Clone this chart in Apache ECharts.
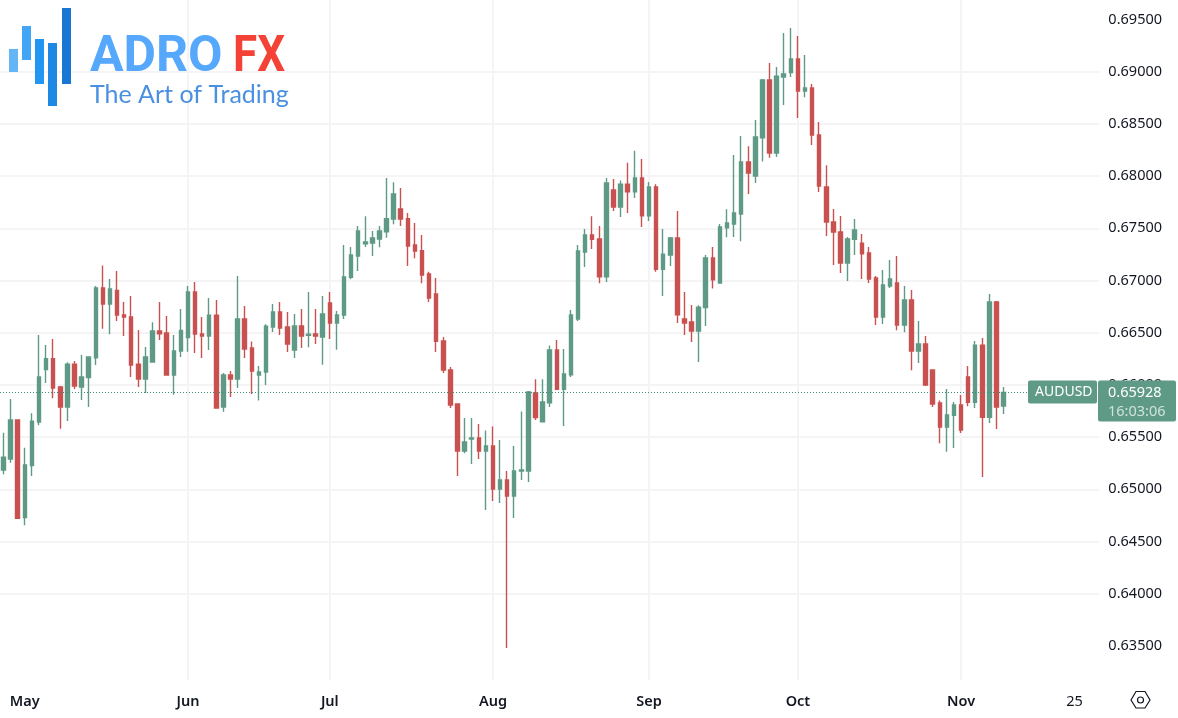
<!DOCTYPE html>
<html>
<head>
<meta charset="utf-8">
<title>AUDUSD</title>
<script src="https://cdn.jsdelivr.net/npm/echarts@6/dist/echarts.min.js"></script>
<style>
  html, body { margin: 0; padding: 0; background: #fff; }
  #chart { width: 1178px; height: 718px; }
</style>
</head>
<body>
<div id="chart"></div>
<script>
const openValues = [
  0.65185,0.65291,0.65664,0.64729,0.65227,0.65645,0.66147,0.66252,0.65980,0.65789,
  0.66198,0.65980,0.66070,0.66261,0.66929,0.66776,0.66906,0.66670,0.66651,0.66198,
  0.66057,0.66220,0.66517,0.66498,0.66095,0.66325,0.66453,0.66890,0.66488,0.66469,
  0.66667,0.65789,0.66095,0.66057,0.66632,0.66354,0.66095,0.66124,0.66555,0.66699,
  0.66555,0.66335,0.66565,0.66475,0.66488,0.66459,0.66785,0.66593,0.66670,0.67031,
  0.67235,0.67353,0.67360,0.67398,0.67468,0.67590,0.67685,0.67593,0.67341,0.67286,
  0.67063,0.66871,0.66421,0.66143,0.65818,0.65367,0.65482,0.65492,0.65368,0.65416,
  0.65004,0.65090,0.64937,0.65176,0.65176,0.65924,0.65646,0.65828,0.66335,0.65959,
  0.66096,0.66632,0.67274,0.67437,0.67399,0.67035,0.67868,0.67705,0.67922,0.67849,
  0.67983,0.67619,0.67897,0.67108,0.67245,0.67408,0.66632,0.66604,0.66517,0.66741,
  0.67217,0.66977,0.67504,0.67542,0.67638,0.68136,0.68002,0.68366,0.68921,0.68222,
  0.68950,0.68992,0.69122,0.68816,0.68845,0.68394,0.67896,0.67561,0.67465,0.67168,
  0.67395,0.67357,0.67264,0.67025,0.66651,0.66948,0.66977,0.66574,0.66814,0.66325,
  0.66392,0.66143,0.65827,0.65597,0.65709,0.65808,0.66076,0.65834,0.66380,0.65690,
  0.66795,0.65799
];
const closeValues = [
  0.65307,0.65664,0.64722,0.65233,0.65652,0.66076,0.66252,0.65971,0.65789,0.66198,
  0.65990,0.66076,0.66268,0.66929,0.66776,0.66919,0.66670,0.66651,0.66191,0.66057,
  0.66268,0.66517,0.66491,0.66095,0.66325,0.66523,0.66890,0.66488,0.66469,0.66667,
  0.65779,0.66095,0.66057,0.66632,0.66344,0.66134,0.66124,0.66562,0.66699,0.66546,
  0.66392,0.66565,0.66469,0.66485,0.66469,0.66680,0.66593,0.66670,0.67034,0.67245,
  0.67475,0.67369,0.67408,0.67475,0.67593,0.67829,0.67590,0.67331,0.67283,0.67053,
  0.66833,0.66418,0.66143,0.65808,0.65367,0.65453,0.65492,0.65367,0.65416,0.65004,
  0.65090,0.64937,0.65176,0.65186,0.65933,0.65687,0.65837,0.66335,0.65959,0.66106,
  0.66671,0.67284,0.67437,0.67395,0.67035,0.67935,0.67705,0.67922,0.67849,0.67983,
  0.67619,0.67897,0.67108,0.67252,0.67408,0.66671,0.66594,0.66517,0.66744,0.67217,
  0.67006,0.67514,0.67552,0.67648,0.68136,0.68030,0.68375,0.68921,0.68222,0.68956,
  0.68979,0.69122,0.68816,0.68845,0.68394,0.67906,0.67561,0.67465,0.67168,0.67398,
  0.67484,0.67255,0.67015,0.66651,0.66958,0.67015,0.66574,0.66814,0.66325,0.66392,
  0.66000,0.65818,0.65597,0.65712,0.65808,0.65569,0.65834,0.66380,0.65690,0.66795,
  0.65789,0.65928
];
const lowValues = [
  0.65144,0.65256,0.64716,0.64655,0.65128,0.65613,0.66019,0.65872,0.65581,0.65655,
  0.65961,0.65856,0.65789,0.66191,0.66539,0.66485,0.66613,0.66469,0.66076,0.65980,
  0.65923,0.66220,0.66431,0.66089,0.65907,0.66268,0.66319,0.66306,0.66258,0.66335,
  0.65779,0.65744,0.65885,0.65971,0.66258,0.65913,0.65850,0.66000,0.66507,0.66478,
  0.66316,0.66258,0.66354,0.66360,0.66392,0.66194,0.66440,0.66338,0.66632,0.67012,
  0.67092,0.67321,0.67235,0.67318,0.67411,0.67539,0.67523,0.67139,0.67213,0.66973,
  0.66795,0.66316,0.66114,0.65779,0.65128,0.65345,0.65243,0.65291,0.64803,0.64889,
  0.64870,0.63480,0.64726,0.65090,0.65071,0.65665,0.65646,0.65789,0.65952,0.65607,
  0.66077,0.66613,0.67130,0.67303,0.66974,0.66987,0.67667,0.67609,0.67648,0.67791,
  0.67514,0.67571,0.67083,0.66853,0.67140,0.66594,0.66479,0.66412,0.66220,0.66565,
  0.66923,0.66977,0.67415,0.67418,0.67376,0.67829,0.67935,0.68139,0.68177,0.68184,
  0.68682,0.68950,0.68557,0.68755,0.68299,0.67848,0.67427,0.67149,0.67073,0.66996,
  0.67245,0.67015,0.66977,0.66574,0.66584,0.66929,0.66523,0.66504,0.66140,0.66210,
  0.65990,0.65789,0.65441,0.65361,0.65396,0.65540,0.65795,0.65779,0.65118,0.65636,
  0.65578,0.65722
];
const highValues = [
  0.65543,0.65866,0.65671,0.65399,0.65728,0.66479,0.66383,0.66440,0.65990,0.66217,
  0.66230,0.66287,0.66274,0.66948,0.67143,0.67015,0.67092,0.66795,0.66852,0.66526,
  0.66364,0.66600,0.66795,0.66661,0.66479,0.66728,0.66948,0.66986,0.66651,0.66833,
  0.66814,0.66115,0.66134,0.67044,0.66756,0.66415,0.66182,0.66581,0.66775,0.66795,
  0.66699,0.66680,0.66728,0.66890,0.66728,0.66852,0.66890,0.66708,0.67341,0.67321,
  0.67523,0.67615,0.67475,0.67523,0.67982,0.67941,0.67887,0.67647,0.67551,0.67436,
  0.67085,0.67024,0.66459,0.66172,0.65824,0.65683,0.65683,0.65626,0.65563,0.65601,
  0.65473,0.65176,0.65416,0.65745,0.65943,0.66054,0.66054,0.66377,0.66431,0.66345,
  0.66719,0.67341,0.67494,0.67616,0.67523,0.67983,0.67973,0.67957,0.68127,0.68242,
  0.68165,0.67945,0.67922,0.67494,0.67418,0.67667,0.66891,0.66766,0.66763,0.67245,
  0.67322,0.67542,0.67683,0.68203,0.68385,0.68286,0.68538,0.68931,0.69084,0.69046,
  0.69371,0.69419,0.69343,0.69161,0.68883,0.68519,0.68104,0.67686,0.67619,0.67417,
  0.67590,0.67446,0.67322,0.67044,0.67101,0.67197,0.67235,0.66948,0.66910,0.66613,
  0.66469,0.66143,0.65850,0.65961,0.65837,0.65904,0.66182,0.66421,0.66450,0.66871,
  0.66804,0.65981
];

const tickLabels = ["May", "Jun", "Jul", "Aug", "Sep", "Oct", "Nov", "25"];
const tickSlots = [3, 26, 46, 69, 91, 112, 135, 151];
const boldTicks = ["May", "Jun", "Jul", "Aug", "Sep", "Oct", "Nov"];
const priceTicks = [0.635, 0.64, 0.645, 0.65, 0.655, 0.66, 0.665, 0.67, 0.675, 0.68, 0.685, 0.69, 0.695];
const slotCount = 155;
const symbolName = "AUDUSD";
const lastPrice = 0.65928;
const countdown = "16:03:06";

const UP = "#5f9a86";
const DOWN = "#c95150";
const GRID = "#f4f4f6";
const FONT = '"Noto Sans", sans-serif';

const categories = Array.from({ length: slotCount }, (_, i) => {
  const at = tickSlots.indexOf(i);
  return at >= 0 ? tickLabels[at] : "";
});
const hasLabel = (index, value) => value !== "";
const candles = openValues.map((open, i) => [open, closeValues[i], lowValues[i], highValues[i]]);

const chart = echarts.init(document.getElementById("chart"));

chart.setOption({
  animation: false,
  backgroundColor: "#fff",
  grid: { left: -0.54, top: 0, width: 1099.9, height: 680 },
  xAxis: {
    type: "category",
    data: categories,
    boundaryGap: true,
    axisLine: { show: false },
    axisTick: { show: false, alignWithLabel: true },
    splitLine: {
      show: true,
      alignWithLabel: true,
      showMinLine: false,
      showMaxLine: false,
      interval: hasLabel,
      lineStyle: { color: GRID, width: 2 },
    },
    axisLabel: {
      interval: hasLabel,
      hideOverlap: false,
      margin: 14,
      color: "#131722",
      fontFamily: FONT,
      fontSize: 14.5,
      formatter: (value) => (boldTicks.includes(value) ? `{b|${value}}` : value),
      rich: { b: { fontFamily: FONT, fontSize: 14.5, fontWeight: 600, color: "#131722" } },
    },
  },
  yAxis: {
    type: "value",
    position: "right",
    min: 0.63174,
    max: 0.69687,
    axisLine: { show: false },
    axisTick: { show: false, customValues: priceTicks },
    splitLine: { show: true, showMinLine: false, showMaxLine: false, lineStyle: { color: GRID, width: 2 } },
    axisLabel: {
      customValues: priceTicks,
      margin: 9,
      padding: [4, 0, 0, 0],
      color: "#131722",
      fontFamily: FONT,
      fontSize: 14.5,
      formatter: (value) => value.toFixed(5),
    },
  },
  series: [
    {
      type: "candlestick",
      data: candles,
      barWidth: 4,
      itemStyle: { color: UP, color0: DOWN, borderColor: UP, borderColor0: DOWN, borderWidth: 1.4 },
      markLine: {
        silent: true,
        symbol: "none",
        precision: 5,
        label: { show: false },
        emphasis: { disabled: true },
        lineStyle: { color: "#3f8a72", type: [1, 2], width: 1 },
        data: [{ yAxis: lastPrice }],
      },
    },
  ],
});

// tags and logo sit on top of the chart
const priceY = chart.convertToPixel({ yAxisIndex: 0 }, lastPrice);
const logoBars = [
  { x: 9, y: 49, h: 23, fill: "#64b5f6" },
  { x: 22, y: 26, h: 34, fill: "#42a5f5" },
  { x: 35, y: 39, h: 45, fill: "#2196f3" },
  { x: 48, y: 43, h: 63, fill: "#1e88e5" },
  { x: 62, y: 8, h: 76, fill: "#1976d2" },
];

const overlay = [
  ...logoBars.map((bar) => ({
    type: "rect",
    shape: { x: bar.x, y: bar.y, width: 9, height: bar.h },
    style: { fill: bar.fill },
  })),
  { type: "text", x: 90, y: 33, style: { text: "ADRO", fill: "#55a8fb", font: "700 50px Roboto, sans-serif" } },
  { type: "text", x: 233, y: 33, scaleX: 0.88, style: { text: "FX", fill: "#f44336", font: "700 50px Roboto, sans-serif" } },
  { type: "text", x: 90, y: 82, style: { text: "The Art of Trading", fill: "#4a90e2", font: "400 25px Lato, sans-serif" } },
  {
    type: "rect",
    shape: { x: 1028, y: priceY - 12, width: 69, height: 23, r: 2 },
    style: { fill: UP },
  },
  {
    type: "text",
    x: 1035,
    y: priceY,
    style: { text: symbolName, fill: "#fff", font: `14px ${FONT}`, verticalAlign: "middle" },
  },
  {
    type: "rect",
    shape: { x: 1098, y: priceY - 12, width: 78, height: 41, r: 2 },
    style: { fill: UP },
  },
  {
    type: "text",
    x: 1108,
    y: priceY,
    style: { text: lastPrice.toFixed(5), fill: "#fff", font: `14.5px ${FONT}`, verticalAlign: "middle" },
  },
  {
    type: "text",
    x: 1108,
    y: priceY + 19,
    style: { text: countdown, fill: "#cfe3db", font: `14.5px ${FONT}`, verticalAlign: "middle" },
  },
  {
    type: "polygon",
    shape: { points: [[1131, 700], [1136, 691.5], [1145, 691.5], [1150, 700], [1145, 708], [1136, 708]] },
    style: { fill: "none", stroke: "#131722", lineWidth: 1.2 },
  },
  {
    type: "circle",
    shape: { cx: 1140.5, cy: 700, r: 3 },
    style: { fill: "none", stroke: "#131722", lineWidth: 1.2 },
  },
];

chart.setOption({
  graphic: overlay.map((el, i) => ({ ...el, z: 100 + i })),
});
</script>
</body>
</html>
